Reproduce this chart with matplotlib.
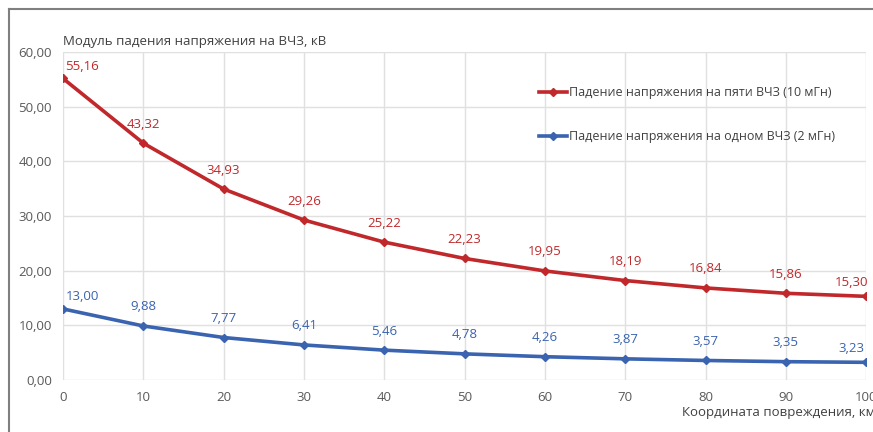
import matplotlib.pyplot as plt
from matplotlib.lines import Line2D

# Данные: координата повреждения, км и модуль падения напряжения, кВ
km = [0, 10, 20, 30, 40, 50, 60, 70, 80, 90, 100]
u_five = [55.16, 43.32, 34.93, 29.26, 25.22, 22.23, 19.95, 18.19, 16.84, 15.86, 15.30]
u_one = [13.00, 9.88, 7.77, 6.41, 5.46, 4.78, 4.26, 3.87, 3.57, 3.35, 3.23]
y_ticks = [0, 10, 20, 30, 40, 50, 60]

label_five = 'Падение напряжения на пяти ВЧЗ (10 мГн)'
label_one = 'Падение напряжения на одном ВЧЗ (2 мГн)'

RED = '#C0282B'
BLUE = '#3A63B0'
GREY = '#595959'

plt.rcParams['font.family'] = ['Open Sans', 'DejaVu Sans']

fig = plt.figure(figsize=(8.73, 4.32), dpi=100)
ax = fig.add_axes([0.0722, 0.1204, 0.92, 0.7592])

ax.plot(km, u_five, color=RED, lw=2.6, marker='D', ms=4.5, label=label_five)
ax.plot(km, u_one, color=BLUE, lw=2.6, marker='D', ms=4.5, label=label_one)


def fmt(v):
    return f'{v:.2f}'.replace('.', ',')


# подписи значений над точками
for xs, ys, c in [(km, u_five, RED), (km, u_one, BLUE)]:
    for i, (x, y) in enumerate(zip(xs, ys)):
        off = (0, 19)
        if i == 0:
            off = (19, 12)
        elif i == len(xs) - 1:
            off = (-15, 14)
        ax.annotate(fmt(y), (x, y), xytext=off, textcoords='offset pixels',
                    ha='center', va='center', color=c, fontsize=9.5)

ax.set_xlim(0, 100)
ax.set_ylim(0, 60)
ax.set_xticks(km)
ax.set_yticks(y_ticks)
ax.set_yticklabels([fmt(v) for v in y_ticks])
ax.grid(True, color='#E0E0E0', lw=1)
ax.set_axisbelow(True)
for s in ax.spines.values():
    s.set_visible(False)
ax.tick_params(length=0, colors=GREY, labelsize=9.5, pad=8)

ax.text(0, 1.012, 'Модуль падения напряжения на ВЧЗ, кВ', transform=ax.transAxes,
        ha='left', va='bottom', fontsize=9.5, color='#404040')
fig.text(1.003, 0.03, 'Координата повреждения, км', ha='right', va='bottom',
         fontsize=9.5, color='#404040')

leg = ax.legend(loc='upper left', bbox_to_anchor=(0.578, 0.93), frameon=False,
                fontsize=9, labelspacing=2.5, handlelength=2.3, handletextpad=0.1,
                labelcolor='#404040')

# рамка рисунка
fig.add_artist(Line2D([9 / 873, 9 / 873], [0, 1 - 9 / 432], color='#7F7F7F', lw=1.5))
fig.add_artist(Line2D([9 / 873, 1], [1 - 9 / 432, 1 - 9 / 432], color='#7F7F7F', lw=1.5))

fig.savefig('out.png', dpi=100)
